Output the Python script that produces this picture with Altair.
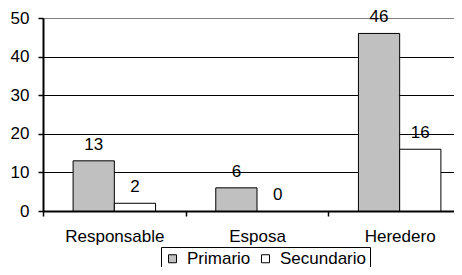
import altair as alt
import pandas as pd

categories = ["Responsable", "Esposa", "Heredero"]
series = ["Primario", "Secundario"]
primario = [13, 6, 46]
secundario = [2, 0, 16]
y_ticks = [0, 10, 20, 30, 40, 50]

rows = []
for c, p, s in zip(categories, primario, secundario):
    rows.append({"cat": c, "serie": series[0], "valor": p})
    rows.append({"cat": c, "serie": series[1], "valor": s})
df = pd.DataFrame(rows)

FONT = "Liberation Sans"

x_enc = alt.X(
    "cat:N", sort=categories, title=None,
    scale=alt.Scale(paddingInner=0, paddingOuter=0, range=[0, 428]),
    axis=alt.Axis(
        tickBand="extent", labelAngle=0, labelFontSize=17, labelFont=FONT,
        labelColor="black", domainColor="black", domainWidth=2,
        tickColor="black", tickSize=5, tickWidth=1.5, labelPadding=12, grid=False,
    ),
)
xoff_enc = alt.XOffset("serie:N", sort=series, scale=alt.Scale(paddingOuter=0.73, paddingInner=0))
y_enc = alt.Y(
    "valor:Q", title=None,
    scale=alt.Scale(domain=[0, 50], nice=False),
    axis=alt.Axis(
        values=y_ticks, labelFontSize=17, labelFont=FONT, labelColor="black",
        domainColor="black", domainWidth=2, tickColor="black", tickSize=5, tickWidth=1.5,
        labelPadding=9, grid=True, gridWidth=1.2,
        gridColor=alt.expr("datum.value == 50 ? '#808080' : '#000000'"),
    ),
)

base = alt.Chart(df).encode(x=x_enc, xOffset=xoff_enc, y=y_enc)

bars = base.mark_bar(stroke="black", strokeWidth=1).encode(
    color=alt.Color(
        "serie:N", sort=series,
        scale=alt.Scale(domain=series, range=["#c0c0c0", "#ffffff"]),
        legend=alt.Legend(
            orient="none", legendX=118, legendY=229, direction="horizontal", title=None,
            strokeColor="black", padding=3, symbolType="square", symbolSize=64,
            symbolStrokeColor="black", symbolStrokeWidth=1, labelFontSize=17, labelFont=FONT,
            labelColor="black", labelOffset=6, columnPadding=6,
        ),
    ),
    strokeOpacity=alt.condition("datum.valor == 0", alt.value(0), alt.value(1)),
)

labels = base.mark_text(dy=-7, baseline="bottom", fontSize=17, font=FONT, color="black").encode(
    text="valor:Q"
)

chart = (
    alt.layer(bars, labels)
    .properties(
        width=411, height=193,
        autosize=alt.AutoSizeParams(type="none"),
        padding={"left": 35, "top": 10, "right": 0, "bottom": 56},
    )
    .configure_view(stroke=None)
)

chart.save("out.html", embed_options={"renderer": "svg", "actions": False})
